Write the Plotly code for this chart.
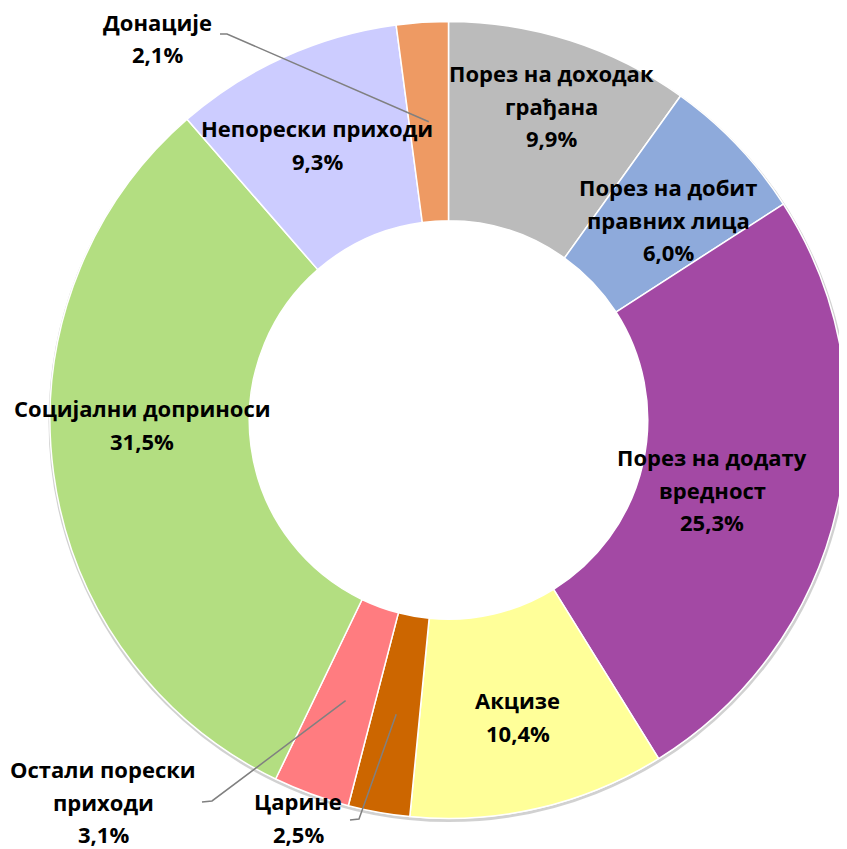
import math
import plotly.graph_objects as go

# data
labels = ['Порез на доходак грађана', 'Порез на добит правних лица', 'Порез на додату вредност',
          'Акцизе', 'Царине', 'Остали порески приходи', 'Социјални доприноси',
          'Непорески приходи', 'Донације']
values = [9.9, 6.0, 25.3, 10.4, 2.5, 3.1, 31.5, 9.3, 2.1]
label_lines = [['Порез на доходак', 'грађана'], ['Порез на добит', 'правних лица'],
               ['Порез на додату', 'вредност'], ['Акцизе'], ['Царине'],
               ['Остали порески', 'приходи'], ['Социјални доприноси'],
               ['Непорески приходи'], ['Донације']]
colors = ['#BBBBBB', '#8EAADB', '#A349A4', '#FFFF99', '#CC6600',
          '#FF7C80', '#B3DE81', '#CCCCFF', '#EE9A63']

# label placement (page pixel centre of first text line) and leader elbows
label_pos = [(551, 73), (668, 187), (712, 457), (518, 700), (298, 801),
             (103, 769), (142, 408), (317, 128), (157, 22)]
leader_tail = [None, None, None, None, [(350, 820), (359, 819)],
               [(202, 802), (212, 801)], None, None, [(220, 34), (227, 34)]]

OFF = 8  # page body margin
W, H = 847 - OFF, 849 - OFF
ML, MR, MT, MB = 42, 0, 12, 29
pw, ph = W - ML - MR, H - MT - MB
cx, cy = OFF + ML + pw / 2, OFF + MT + ph / 2
R = min(pw, ph) / 2
LINE = 32.5


def to_paper(px, py):
    return (px - OFF - ML) / pw, (OFF + MT + ph - py) / ph


fig = go.Figure(go.Pie(labels=labels, values=values, sort=False, direction='clockwise',
                       rotation=0, hole=0.5, textinfo='none', hoverinfo='label+percent',
                       marker=dict(colors=colors, line=dict(color='white', width=1.5))))

# soft outer shadow
x0, y0 = to_paper(cx - R, cy - R + 2)
x1, y1 = to_paper(cx + R + 1, cy + R + 2)
fig.add_shape(type='circle', xref='paper', yref='paper', x0=x0, y0=y0, x1=x1, y1=y1,
              line=dict(color='rgba(0,0,0,0.18)', width=3), layer='below')

total = sum(values)
cum = 0
for i, v in enumerate(values):
    mid = (cum + v / 2) / total * 2 * math.pi
    cum += v
    lines = label_lines[i] + [f'{v:.1f}'.replace('.', ',') + '%']
    lx, ly = label_pos[i]
    for k, t in enumerate(lines):
        xp, yp = to_paper(lx, ly + k * LINE)
        fig.add_annotation(x=xp, y=yp, xref='paper', yref='paper', text=f'<b>{t}</b>',
                           showarrow=False, xanchor='center', yanchor='middle',
                           font=dict(family='Open Sans', size=22, color='black'))
    if leader_tail[i]:
        ex = cx + 0.75 * R * math.sin(mid)
        ey = cy - 0.75 * R * math.cos(mid)
        pts = [to_paper(*p) for p in leader_tail[i]] + [to_paper(ex, ey)]
        path = 'M ' + ' L '.join(f'{x:.4f},{y:.4f}' for x, y in pts)
        fig.add_shape(type='path', path=path, xref='paper', yref='paper',
                      line=dict(color='#808080', width=1.5))

fig.update_layout(width=W, height=H, showlegend=False,
                  margin=dict(l=ML, r=MR, t=MT, b=MB),
                  paper_bgcolor='white', plot_bgcolor='white')

fig.write_html('out.html')
